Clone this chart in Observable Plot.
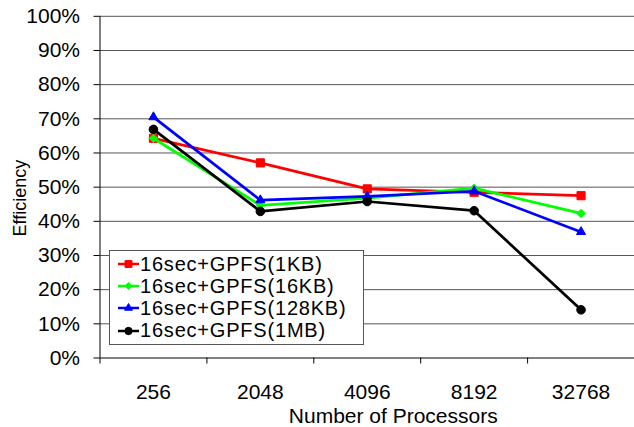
<!DOCTYPE html>
<html>
<head>
<meta charset="utf-8">
<script src="https://cdn.jsdelivr.net/npm/d3@7"></script>
<script src="https://cdn.jsdelivr.net/npm/@observablehq/plot@0.6"></script>
<style>
  html, body { margin: 0; padding: 0; background: #fff; }
  #wrap { position: relative; width: 634px; height: 427px; font-family: Arial, "Liberation Sans", sans-serif; }
  #legend { position: absolute; left: 109px; top: 250px; width: 253px; height: 91px;
            border: 1px solid #555; background: #fff; padding-top: 2px; box-sizing: content-box; }
  .row { display: flex; align-items: center; height: 22.2px; padding-left: 8px;
         font-size: 20px; letter-spacing: 0.8px; color: #000; white-space: nowrap; }
  .row svg { flex: none; margin-right: 1px; }
</style>
</head>
<body>
<div id="wrap"></div>
<script>
// ---- data ----
const categories = ["256", "2048", "4096", "8192", "32768"];
const seriesNames = ["16sec+GPFS(1KB)", "16sec+GPFS(16KB)", "16sec+GPFS(128KB)", "16sec+GPFS(1MB)"];
const eff1KB   = [0.643, 0.571, 0.495, 0.485, 0.475];
const eff16KB  = [0.643, 0.447, 0.468, 0.497, 0.423];
const eff128KB = [0.705, 0.462, 0.473, 0.488, 0.369];
const eff1MB   = [0.669, 0.429, 0.458, 0.431, 0.141];
const yTicks = [0, 0.1, 0.2, 0.3, 0.4, 0.5, 0.6, 0.7, 0.8, 0.9, 1.0];

// ---- styles ----
const colors  = ["#ff0000", "#00ff00", "#0000ff", "#000000"];
const symbols = ["square", "diamond2", "triangle", "circle"];
const radii   = [4.6, 3.8, 3.4, 4.3];

const seriesValues = [eff1KB, eff16KB, eff128KB, eff1MB];
const rows = seriesValues.flatMap((vals, s) =>
  vals.map((v, i) => ({series: seriesNames[s], pos: i + 0.5, value: v})));

const seriesMarks = seriesNames.flatMap((name, s) => {
  const data = rows.filter(d => d.series === name);
  return [
    Plot.line(data, {x: "pos", y: "value", stroke: colors[s], strokeWidth: 2.75}),
    Plot.dot(data, {x: "pos", y: "value", symbol: symbols[s], r: radii[s],
                    fill: colors[s], stroke: colors[s], strokeWidth: 1})
  ];
});

const chart = Plot.plot({
  width: 634,
  height: 427,
  marginLeft: 99.5,
  marginRight: 0,
  marginTop: 15.8,
  marginBottom: 69.5,
  style: {fontFamily: "Arial, 'Liberation Sans', sans-serif", background: "transparent", color: "#000"},
  x: {type: "linear", domain: [0, categories.length]},
  y: {domain: [0, 1]},
  marks: [
    Plot.ruleY(yTicks.filter(d => d > 0), {stroke: "#555", strokeWidth: 1}),
    Plot.axisY({ticks: yTicks, tickFormat: d => Math.round(d * 100) + "%", tickSize: 6,
                tickPadding: 14, fontSize: 21, label: null}),
    Plot.axisX({ticks: d3.range(categories.length), tickSize: 6, tickFormat: () => "", label: null}),
    Plot.axisX({ticks: categories.map((c, i) => i + 0.5), tickSize: 0, tickPadding: 26,
                tickFormat: d => categories[Math.floor(d)], fontSize: 21, label: null}),
    Plot.ruleX([0], {stroke: "#000"}),
    Plot.ruleY([0], {stroke: "#000"}),
    ...seriesMarks,
    Plot.text(["Number of Processors"], {text: d => d, frameAnchor: "bottom", textAnchor: "middle",
                lineAnchor: "middle", dx: 26, dy: 58, fontSize: 21}),
    Plot.text(["Efficiency"], {text: d => d, frameAnchor: "left", textAnchor: "middle",
                lineAnchor: "middle", rotate: -90, dx: -80, dy: 11, fontSize: 18})
  ]
});

const wrap = document.getElementById("wrap");
wrap.appendChild(chart);

// ---- legend ----
const legend = document.createElement("div");
legend.id = "legend";
seriesNames.forEach((name, s) => {
  const row = document.createElement("div");
  row.className = "row";
  const svg = d3.create("svg").attr("width", 21).attr("height", 14);
  svg.append("line").attr("x1", 0).attr("x2", 21).attr("y1", 7).attr("y2", 7)
     .attr("stroke", colors[s]).attr("stroke-width", 2.5);
  const symMap = {square: d3.symbolSquare, diamond2: d3.symbolDiamond2, triangle: d3.symbolTriangle, circle: d3.symbolCircle};
  const r = radii[s] * 0.85;
  svg.append("path").attr("transform", "translate(10.5,7)")
     .attr("d", d3.symbol(symMap[symbols[s]], Math.PI * r * r)())
     .attr("fill", colors[s]).attr("stroke", colors[s]).attr("stroke-width", 1);
  row.appendChild(svg.node());
  const span = document.createElement("span");
  span.textContent = name;
  row.appendChild(span);
  legend.appendChild(row);
});
wrap.appendChild(legend);
</script>
</body>
</html>
